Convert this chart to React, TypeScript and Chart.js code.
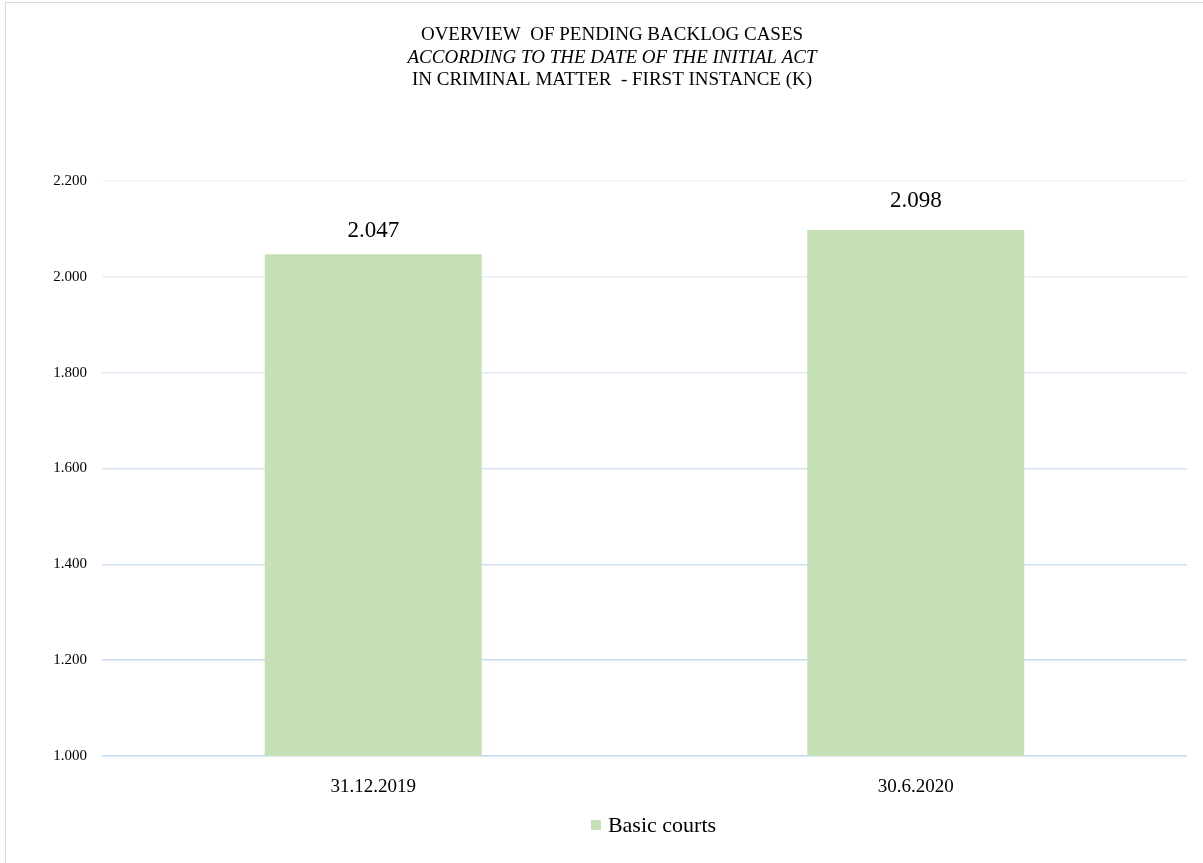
import React, { useEffect, useRef } from "react";
import { Chart, registerables } from "chart.js";

Chart.register(...registerables);

const categories = ["31.12.2019", "30.6.2020"];
const seriesName = "Basic courts";
const seriesValues = [2047, 2098];
const titleLines = [
  "OVERVIEW  OF PENDING BACKLOG CASES",
  "ACCORDING TO THE DATE OF THE INITIAL ACT",
  "IN CRIMINAL MATTER  - FIRST INSTANCE (K)",
];
const titleItalic = [false, true, false];
const yMin = 1000;
const yMax = 2200;
const yStep = 200;

const FONT = "'Liberation Serif', 'Times New Roman', serif";
const BAR_COLOR = "#c5e0b4";
const LABEL_GAPS = [17, 23];
const gridColors: Record<number, string> = {
  2200: "#f3f4f6",
  2000: "#e9eff7",
  1800: "#e0e9f5",
  1600: "#d7e3f3",
  1400: "#cfdef2",
  1200: "#c9daf1",
  1000: "#c3d6ef",
};

const fmt = (v: number) => {
  const s = Math.round(v).toString();
  return s.replace(/\B(?=(\d{3})+(?!\d))/g, ".");
};

const decorPlugin = {
  id: "decor",
  beforeDraw(chart: any) {
    const ctx = chart.ctx;
    ctx.save();
    ctx.fillStyle = "#ffffff";
    ctx.fillRect(0, 0, chart.width, chart.height);
    ctx.strokeStyle = "#d9d9d9";
    ctx.lineWidth = 1;
    ctx.strokeRect(5.5, 2.5, chart.width + 10, chart.height + 10);
    ctx.restore();
  },
  afterDraw(chart: any) {
    const ctx = chart.ctx;
    ctx.save();
    ctx.fillStyle = "#000000";
    ctx.textAlign = "center";
    ctx.textBaseline = "middle";
    const cx = 612;
    titleLines.forEach((t, i) => {
      ctx.font = `${titleItalic[i] ? "italic " : ""}19px ${FONT}`;
      ctx.fillText(t, cx, 35 + i * 22.5);
    });
    const meta = chart.getDatasetMeta(0);
    ctx.font = `23px ${FONT}`;
    ctx.textBaseline = "alphabetic";
    meta.data.forEach((bar: any, i: number) => {
      ctx.fillText(fmt(seriesValues[i]), bar.x, bar.y - LABEL_GAPS[i]);
    });
    // legend
    const area = chart.chartArea;
    const lc = (area.left + area.right) / 2 + 9;
    ctx.font = `22px ${FONT}`;
    const tw = ctx.measureText(seriesName).width;
    const total = 10 + 7 + tw;
    const lx = lc - total / 2;
    const ly = 825;
    ctx.fillStyle = BAR_COLOR;
    ctx.fillRect(lx, ly - 5, 10, 10);
    ctx.fillStyle = "#000000";
    ctx.textAlign = "left";
    ctx.textBaseline = "middle";
    ctx.fillText(seriesName, lx + 17, ly + 1);
    ctx.restore();
  },
};

export default function App() {
  const ref = useRef<HTMLCanvasElement>(null);
  useEffect(() => {
    if (!ref.current) return;
    const chart = new Chart(ref.current, {
      type: "bar",
      data: {
        labels: categories,
        datasets: [
          {
            label: seriesName,
            data: seriesValues,
            backgroundColor: BAR_COLOR,
            borderWidth: 0,
            categoryPercentage: 0.4,
            barPercentage: 1,
          },
        ],
      },
      options: {
        animation: false,
        responsive: false,
        maintainAspectRatio: false,
        layout: { padding: { left: 0, right: 16, top: 181, bottom: 57 } },
        plugins: {
          title: { display: false },
          tooltip: { enabled: false },
          legend: { display: false },
        },
        scales: {
          x: {
            grid: { display: false, drawTicks: false },
            border: { display: false },
            ticks: {
              color: "#000000",
              font: { family: FONT, size: 19 },
              padding: 20,
            },
            afterFit(scale: any) {
              scale.height = 50;
            },
          },
          y: {
            min: yMin,
            max: yMax,
            border: { display: false },
            grid: {
              drawTicks: false,
              color: (c: any) => gridColors[c.tick?.value] || "#d9e4f2",
              lineWidth: 1.5,
            },
            ticks: {
              stepSize: yStep,
              color: "#000000",
              font: { family: FONT, size: 15 },
              padding: 15,
              callback: (v: any) => fmt(Number(v)),
            },
            afterFit(scale: any) {
              scale.width = 102;
            },
          },
        },
      },
      plugins: [decorPlugin],
    });
    return () => chart.destroy();
  }, []);
  return (
    <div style={{ position: "absolute", left: 0, top: 0, width: 1203, height: 863 }}>
      <canvas ref={ref} width={1203} height={863} style={{ display: "block" }} />
    </div>
  );
}
